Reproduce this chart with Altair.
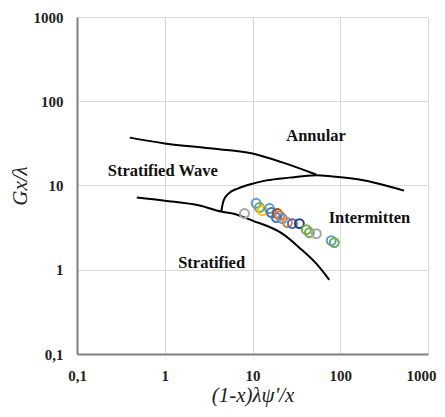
import altair as alt
import pandas as pd

# Boundary curves (x, y)
curve_a_x = [0.40, 1.0, 3.24, 10.0, 21.9, 53.0]
curve_a_y = [37.0, 31.6, 27.6, 24.0, 18.8, 13.5]

curve_b_x = [4.4, 4.68, 5.33, 6.76, 9.25, 14.4, 26.3, 53.4, 81.0, 164.0, 533.0]
curve_b_y = [4.9, 6.6, 8.0, 9.2, 10.3, 11.5, 12.4, 13.2, 12.8, 11.8, 8.7]

curve_c_x = [0.48, 1.0, 2.5, 4.4, 5.93, 10.0, 21.9, 34.2, 53.4, 75.0]
curve_c_y = [7.2, 6.6, 5.78, 4.9, 4.64, 3.83, 2.68, 1.83, 1.18, 0.76]

# Experimental points
pt_x = [8.1, 11.0, 12.0, 13.0, 15.6, 16.4, 19.2, 18.7, 20.4, 21.9, 25.0, 28.5, 34.2, 41.1, 44.5, 53.4, 79.0, 85.5]
pt_y = [4.64, 6.15, 5.47, 5.03, 5.32, 4.77, 4.64, 4.16, 4.39, 4.05, 3.63, 3.53, 3.53, 2.99, 2.75, 2.68, 2.21, 2.10]
pt_c = ["#A5A5A5", "#5B9BD5", "#70AD47", "#FFC000", "#5B9BD5", "#4472C4", "#9E480E", "#4472C4",
        "#ED7D31", "#5B9BD5", "#ED7D31", "#4472C4", "#264478", "#70AD47", "#70AD47", "#A5A5A5",
        "#5B9BD5", "#70AD47"]

# Region labels
lab_text = ["Annular", "Stratified Wave", "Intermitten", "Stratified"]
lab_x = [53.0, 0.95, 215.0, 3.42]
lab_y = [39.0, 15.0, 4.06, 1.21]

ticks = [0.1, 1, 10, 100, 1000]

rows = []
for name, xs, ys in [("A", curve_a_x, curve_a_y), ("B", curve_b_x, curve_b_y), ("C", curve_c_x, curve_c_y)]:
    for i, (a, b) in enumerate(zip(xs, ys)):
        rows.append({"curve": name, "order": i, "x": a, "y": b})
lines_df = pd.DataFrame(rows)
pts_df = pd.DataFrame({"x": pt_x, "y": pt_y, "c": pt_c})
lab_df = pd.DataFrame({"t": lab_text, "x": lab_x, "y": lab_y})

label_expr = "datum.value == 0.1 ? '0,1' : format(datum.value, 'd')"
SERIF = "'Liberation Serif', 'Times New Roman', Times, serif"

xscale = alt.Scale(type="log", domain=[0.1, 1000])
yscale = alt.Scale(type="log", domain=[0.1, 1000])

xaxis = alt.Axis(values=ticks, labelExpr=label_expr, grid=True, gridColor="#D9D9D9",
                 ticks=False, domainColor="#7F7F7F", domainWidth=2,
                 labelFont=SERIF, labelFontWeight="bold", labelFontSize=15,
                 labelColor="#222222", labelPadding=14, labelFlush=False,
                 labelAlign={"condition": {"test": "datum.value >= 1000", "value": "right"}, "value": "center"},
                 labelOffset={"condition": {"test": "datum.value >= 1000", "value": 8}, "value": 0},
                 title="(1-x)λψ'/x", titleFont=SERIF, titleFontStyle="italic",
                 titleFontWeight="normal", titleFontSize=21, titleColor="#222222", titlePadding=1)
yaxis = alt.Axis(values=ticks, labelExpr=label_expr, grid=True, gridColor="#D9D9D9",
                 ticks=False, domainColor="#7F7F7F", domainWidth=2,
                 labelFont=SERIF, labelFontWeight="bold", labelFontSize=15,
                 labelColor="#222222", labelPadding=14, labelFlush=False,
                 title="Gx/λ", titleFont=SERIF, titleFontStyle="italic",
                 titleFontWeight="normal", titleFontSize=21, titleColor="#222222", titlePadding=3)

lines = alt.Chart(lines_df).mark_line(color="black", strokeWidth=2, interpolate="monotone").encode(
    x=alt.X("x:Q", scale=xscale, axis=xaxis),
    y=alt.Y("y:Q", scale=yscale, axis=yaxis),
    detail="curve:N",
    order="order:Q",
)

points = alt.Chart(pts_df).mark_point(shape="circle", filled=False, size=80, strokeWidth=2, opacity=1).encode(
    x=alt.X("x:Q", scale=xscale),
    y=alt.Y("y:Q", scale=yscale),
    color=alt.Color("c:N", scale=None),
)

labels = alt.Chart(lab_df).mark_text(font=SERIF, fontWeight="bold", fontSize=16.5,
                                     color="#111111", align="center", baseline="middle").encode(
    x=alt.X("x:Q", scale=xscale),
    y=alt.Y("y:Q", scale=yscale),
    text="t:N",
)

chart = alt.layer(lines, points, labels).properties(
    width=351, height=337,
    autosize=alt.AutoSizeParams(type="none"),
    padding={"left": 69, "top": 9, "right": 9, "bottom": 55},
).configure_view(stroke=None).configure(background="white")

chart.save("out.html", embed_options={"renderer": "svg", "actions": False})
